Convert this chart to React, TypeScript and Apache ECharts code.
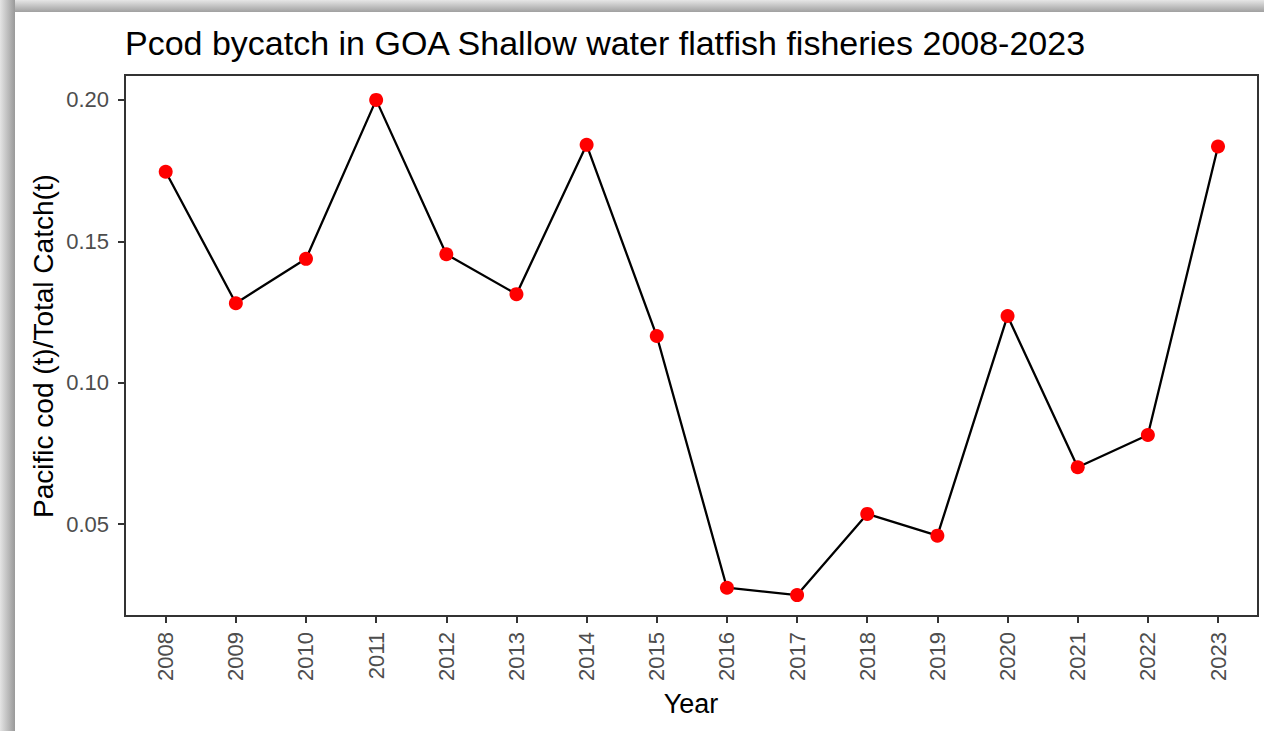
import React, { useEffect, useRef } from "react";
import * as echarts from "echarts";

const years = [2008, 2009, 2010, 2011, 2012, 2013, 2014, 2015, 2016, 2017, 2018, 2019, 2020, 2021, 2022, 2023];
const ratio = [0.1746, 0.1281, 0.1438, 0.2, 0.1454, 0.1313, 0.1841, 0.1165, 0.0275, 0.0249, 0.0536, 0.0459, 0.1236, 0.0701, 0.0815, 0.1835];
const yTicks = [0.05, 0.1, 0.15, 0.2];
const titleText = "Pcod bycatch in GOA Shallow water flatfish fisheries 2008-2023";
const xTitle = "Year";
const yTitle = "Pacific cod (t)/Total Catch(t)";

const FONT = '"Liberation Sans", Arial, sans-serif';

export default function App() {
  const ref = useRef<HTMLDivElement>(null);
  useEffect(() => {
    if (!ref.current) return;
    const chart = echarts.init(ref.current, undefined, { renderer: "svg" });
    const data = years.map((y, i) => [y, ratio[i]]);
    chart.setOption({
      animation: false,
      backgroundColor: "#ffffff",
      grid: {
        left: 125,
        right: 6,
        top: 75,
        bottom: 115,
        show: true,
        borderColor: "#333333",
        borderWidth: 2,
        backgroundColor: "transparent",
      },
      xAxis: {
        type: "value",
        min: 2007.42,
        max: 2023.57,
        splitLine: { show: false },
        axisLine: { show: true, lineStyle: { color: "#333333", width: 2 } },
        axisTick: { show: true, customValues: years, length: 7, lineStyle: { color: "#333333", width: 2 } },
        axisLabel: {
          customValues: years,
          rotate: 90,
          margin: 16,
          color: "#4d4d4d",
          fontSize: 22,
          fontFamily: FONT,
          formatter: (v: number) => String(Math.round(v)),
        },
      },
      yAxis: {
        type: "value",
        min: 0.0175,
        max: 0.2088,
        splitLine: { show: false },
        axisLine: { show: true, lineStyle: { color: "#333333", width: 2 } },
        axisTick: { show: true, customValues: yTicks, length: 7, lineStyle: { color: "#333333", width: 2 } },
        axisLabel: {
          customValues: yTicks,
          margin: 16,
          color: "#4d4d4d",
          fontSize: 22,
          fontFamily: FONT,
          formatter: (v: number) => v.toFixed(2),
        },
      },
      graphic: [
        {
          type: "rect",
          shape: { x: 0, y: 0, width: 1264, height: 12 },
          style: {
            fill: new echarts.graphic.LinearGradient(0, 0, 0, 1, [
              { offset: 0, color: "#e6e6e6" },
              { offset: 1, color: "#a0a0a0" },
            ]),
          },
          silent: true,
        },
        {
          type: "rect",
          shape: { x: 0, y: 0, width: 15, height: 731 },
          style: {
            fill: new echarts.graphic.LinearGradient(0, 0, 1, 0, [
              { offset: 0, color: "#e4e4e4" },
              { offset: 1, color: "#999999" },
            ]),
          },
          silent: true,
        },
        {
          type: "text",
          x: 125,
          y: 43,
          style: {
            text: titleText,
            font: `34px ${FONT}`,
            fill: "#000000",
            verticalAlign: "middle",
            align: "left",
          },
        },
        {
          type: "text",
          x: 691,
          y: 704,
          style: {
            text: xTitle,
            font: `27px ${FONT}`,
            fill: "#000000",
            verticalAlign: "middle",
            align: "center",
          },
        },
        {
          type: "text",
          x: 43,
          y: 346,
          rotation: Math.PI / 2,
          style: {
            text: yTitle,
            font: `28px ${FONT}`,
            fill: "#000000",
            verticalAlign: "middle",
            align: "center",
          },
        },
      ],
      series: [
        {
          type: "line",
          data,
          showSymbol: true,
          symbol: "circle",
          symbolSize: 14,
          lineStyle: { color: "#000000", width: 2.3 },
          itemStyle: { color: "#ff0000", borderWidth: 0 },
          z: 5,
        },
      ],
    });
    return () => chart.dispose();
  }, []);
  return (
    <div
      ref={ref}
      style={{ position: "fixed", left: 0, top: 0, width: 1264, height: 731 }}
    />
  );
}
